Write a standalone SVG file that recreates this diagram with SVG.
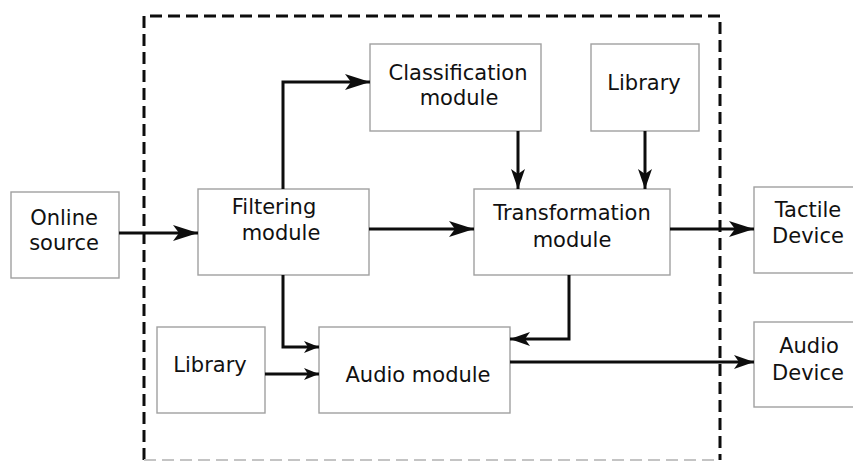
<svg xmlns="http://www.w3.org/2000/svg" width="853" height="461" viewBox="0 0 853 461">
  <style>
    .box { fill: #ffffff; stroke: #a0a0a0; stroke-width: 1.4; }
    .lbl { font-family: "DejaVu Sans", Verdana, sans-serif; font-size: 21px; fill: #111111; text-anchor: middle; }
    .wire { fill: none; stroke: #0d0d0d; stroke-width: 3; }
    .frame { fill: none; stroke: #0d0d0d; stroke-width: 3; stroke-dasharray: 12 6; }
  </style>
  <defs>
    <marker id="headBig" markerUnits="userSpaceOnUse" markerWidth="28" markerHeight="18" refX="25" refY="8" orient="auto">
      <path d="M0,0 L25,8 L0,16 L6,8 Z" fill="#0d0d0d"/>
    </marker>
    <marker id="headMid" markerUnits="userSpaceOnUse" markerWidth="22" markerHeight="16" refX="20" refY="7" orient="auto">
      <path d="M0,0 L20,7 L0,14 L5,7 Z" fill="#0d0d0d"/>
    </marker>
    <marker id="headSmall" markerUnits="userSpaceOnUse" markerWidth="17" markerHeight="14" refX="15" refY="6" orient="auto">
      <path d="M0,0 L15,6 L0,12 L4,6 Z" fill="#0d0d0d"/>
    </marker>
  </defs>

  <rect width="853" height="461" fill="#ffffff"/>

  <!-- system boundary -->
  <g id="boundary">
    <path class="frame" d="M144,460 V16 H720 V460"/>
    <path d="M144,460 H720" fill="none" stroke="#c4c4c4" stroke-width="2" stroke-dasharray="12 6"/>
  </g>

  <g id="online-source">
    <rect class="box" x="11" y="192" width="108" height="86"/>
    <text class="lbl" x="64" y="225">Online</text>
    <text class="lbl" x="64" y="250">source</text>
  </g>

  <g id="filtering-module">
    <rect class="box" x="198" y="189" width="171" height="86"/>
    <text class="lbl" x="274" y="214">Filtering</text>
    <text class="lbl" x="281" y="240">module</text>
  </g>

  <g id="classification-module">
    <rect class="box" x="370" y="44" width="171" height="87"/>
    <text class="lbl" x="458" y="80">Classification</text>
    <text class="lbl" x="459" y="105">module</text>
  </g>

  <g id="library-top">
    <rect class="box" x="591" y="44" width="108" height="87"/>
    <text class="lbl" x="644" y="90">Library</text>
  </g>

  <g id="transformation-module">
    <rect class="box" x="474" y="189" width="196" height="86"/>
    <text class="lbl" x="572" y="220">Transformation</text>
    <text class="lbl" x="572" y="247">module</text>
  </g>

  <g id="tactile-device">
    <rect class="box" x="754" y="187" width="104" height="86"/>
    <text class="lbl" x="808" y="217">Tactile</text>
    <text class="lbl" x="808" y="243">Device</text>
  </g>

  <g id="audio-device">
    <rect class="box" x="754" y="322" width="104" height="85"/>
    <text class="lbl" x="809" y="353">Audio</text>
    <text class="lbl" x="808" y="380">Device</text>
  </g>

  <g id="library-bottom">
    <rect class="box" x="157" y="327" width="108" height="86"/>
    <text class="lbl" x="210" y="372">Library</text>
  </g>

  <g id="audio-module">
    <rect class="box" x="319" y="327" width="191" height="86"/>
    <text class="lbl" x="418" y="382">Audio module</text>
  </g>

  <g id="connectors">
    <path class="wire" d="M119,233 H198" marker-end="url(#headBig)"/>
    <path class="wire" d="M283,189 V82 H370" marker-end="url(#headBig)"/>
    <path class="wire" d="M369,229 H474" marker-end="url(#headBig)"/>
    <path class="wire" d="M518,131 V189" marker-end="url(#headMid)"/>
    <path class="wire" d="M645,131 V189" marker-end="url(#headMid)"/>
    <path class="wire" d="M670,229 H754" marker-end="url(#headBig)"/>
    <path class="wire" d="M283,275 V347 H319" marker-end="url(#headSmall)"/>
    <path class="wire" d="M265,374 H319" marker-end="url(#headSmall)"/>
    <path class="wire" d="M569,275 V339 H510" marker-end="url(#headMid)"/>
    <path class="wire" d="M510,362 H754" marker-end="url(#headMid)"/>
  </g>
</svg>
